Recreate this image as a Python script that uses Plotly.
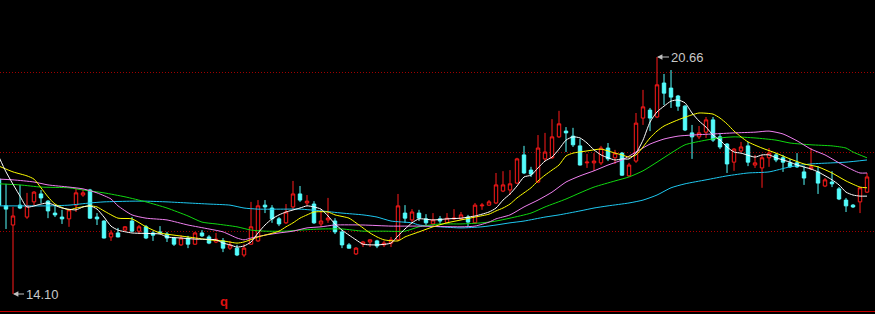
import plotly.graph_objects as go

# ---- candle data (index 0..124) ----
opens = [17.28,16.54,16.01,16.56,16.23,16.65,16.87,16.67,16.34,16.23,
         16.18,16.56,16.84,16.98,16.23,16.12,15.68,15.79,15.87,16.12,
         15.84,15.96,15.79,15.82,15.76,15.65,15.46,15.65,15.48,15.79,
         15.68,15.54,15.57,15.37,15.37,15.18,15.48,15.57,16.56,16.48,
         16.18,16.07,16.51,16.87,16.62,16.59,16.04,16.15,16.12,15.82,
         15.46,15.21,15.48,15.54,15.57,15.46,15.51,15.60,16.34,16.15,
         16.34,16.18,16.04,16.18,16.07,16.18,16.18,16.23,16.07,16.54,
         16.56,16.62,16.95,16.98,17.17,17.95,17.53,17.20,17.84,17.87,
         18.45,18.61,18.47,18.20,17.73,17.73,17.73,18.14,17.87,18.00,
         17.37,17.78,18.97,19.19,19.00,19.94,19.80,19.58,19.30,18.56,
         18.45,18.58,18.92,18.45,18.25,17.75,18.06,18.20,17.67,17.59,
         17.87,17.95,17.87,17.73,17.73,17.48,17.56,17.48,17.09,17.20,
         17.01,16.70,16.56,16.65,16.92]
highs = [17.30,17.15,16.51,17.12,16.90,16.95,16.98,16.70,16.56,16.43,
         16.45,17.01,16.98,17.01,16.34,16.14,15.87,15.93,15.98,16.23,
         16.01,16.01,15.84,15.98,15.82,15.68,15.73,15.71,15.82,15.87,
         15.73,15.79,15.65,15.57,15.46,15.48,16.65,16.70,16.70,16.56,
         16.23,16.59,17.23,17.09,16.84,16.67,16.45,16.76,16.20,15.87,
         15.51,15.40,15.57,15.62,15.60,15.57,15.68,16.87,16.56,16.45,
         16.43,16.31,16.34,16.26,16.34,16.45,16.37,16.29,16.62,16.62,
         16.70,17.45,17.50,17.53,17.87,18.20,17.62,18.50,18.56,18.94,
         19.17,18.72,18.70,18.39,17.98,18.00,18.20,18.28,18.09,18.03,
         17.73,19.11,19.75,19.25,20.66,20.19,20.30,19.61,19.33,18.78,
         18.75,19.00,19.00,18.56,18.28,18.14,18.31,18.31,17.95,17.95,
         18.14,18.00,17.95,17.84,18.00,17.64,18.14,17.64,17.31,17.50,
         17.06,16.76,16.59,17.06,17.45]
lows = [16.54,15.90,14.10,16.45,16.18,16.56,16.62,16.20,16.23,16.04,
        15.96,16.37,16.79,16.18,16.01,15.64,15.57,15.67,15.84,15.82,
        15.76,15.62,15.57,15.76,15.54,15.43,15.43,15.37,15.46,15.68,
        15.48,15.51,15.26,15.32,15.15,15.12,15.46,15.54,16.34,16.07,
        15.98,16.04,16.45,16.65,16.54,16.04,15.96,16.07,15.76,15.37,
        15.36,15.18,15.40,15.40,15.37,15.40,15.40,15.57,16.07,16.07,
        16.12,16.01,15.96,16.04,16.04,16.15,16.15,15.96,16.04,16.43,
        16.54,16.59,16.92,16.84,17.15,17.42,17.34,17.17,17.78,17.84,
        18.42,18.03,18.17,17.66,17.59,17.51,17.67,17.78,17.70,17.37,
        17.34,17.73,18.78,18.61,18.97,19.33,19.25,19.17,18.61,17.84,
        18.39,18.42,18.31,18.11,17.45,17.51,18.03,17.64,17.59,17.04,
        17.62,17.75,17.48,17.59,17.59,17.12,17.53,16.87,17.06,17.06,
        16.70,16.37,16.48,16.34,16.90]
closes = [16.56,16.45,16.26,16.48,16.54,16.92,16.76,16.40,16.29,16.18,
          16.43,16.90,16.90,16.20,16.18,15.65,15.79,15.68,15.96,15.84,
          15.96,15.65,15.73,15.79,15.65,15.48,15.65,15.48,15.79,15.71,
          15.51,15.62,15.37,15.46,15.18,15.37,15.96,16.54,16.51,16.18,
          16.04,16.37,16.87,16.70,16.67,16.07,16.12,16.20,15.82,15.46,
          15.37,15.37,15.54,15.60,15.43,15.51,15.60,16.54,16.20,16.37,
          16.20,16.07,16.15,16.12,16.20,16.20,16.29,16.09,16.56,16.56,
          16.65,17.12,17.12,17.15,17.84,17.45,17.42,18.14,18.03,18.45,
          18.81,18.56,18.23,17.67,17.75,17.78,18.14,17.84,18.00,17.39,
          17.67,18.83,19.28,18.97,19.89,19.66,19.55,19.30,18.64,18.45,
          18.56,18.92,18.36,18.17,17.70,18.11,18.17,17.75,17.73,17.87,
          18.00,17.81,17.75,17.62,17.62,17.31,17.62,17.17,17.26,17.15,
          16.73,16.54,16.51,17.04,17.34]
days = list(range(len(opens)))

# ---- moving-average lines (index, value) ----
ma5_idx = [0,1,3,4,6,7,9,11,12,13,14,15,16,17,19,23,24,26,28,31,32,33,34,35,36,37,38,39,40,41,
           43,44,45,46,47,48,49,50,51,52,54,56,57,58,59,60,62,64,66,68,69,70,71,72,73,74,75,76,77,78,
           79,80,81,82,83,84,85,86,87,88,89,90,91,92,93,94,95,96,97,98,99,100,101,102,103,104,105,106,108,109,
           110,111,113,114,116,117,119,120,121,122,123,124]
ma5_val = [17.89,17.48,16.81,16.51,16.59,16.62,16.48,16.43,16.51,16.54,16.45,16.23,15.98,15.87,15.79,15.76,15.68,15.65,15.62,15.60,
           15.51,15.46,15.40,15.43,15.54,15.79,16.01,16.18,16.29,16.37,16.48,16.54,16.51,16.45,16.26,16.04,15.87,15.73,15.60,15.48,
           15.46,15.51,15.71,15.90,16.07,16.18,16.15,16.18,16.20,16.26,16.31,16.37,16.48,16.70,16.87,17.09,17.34,17.39,17.59,17.78,
           17.89,18.11,18.36,18.45,18.42,18.28,18.09,17.95,17.87,17.81,17.84,17.84,18.00,18.36,18.86,19.14,19.30,19.44,19.47,19.39,
           19.11,18.89,18.72,18.50,18.36,18.17,18.03,18.00,17.89,17.95,17.95,17.87,17.75,17.67,17.56,17.48,17.26,17.12,16.92,16.84,
           16.81,16.81]

ma10_idx = [0,2,4,5,6,7,8,10,11,13,14,15,17,19,21,23,25,27,30,32,34,35,37,38,40,41,42,43,44,45,
            47,48,50,51,52,53,54,55,57,58,60,62,64,66,68,70,71,72,73,74,75,76,77,78,79,80,81,82,84,86,
            88,89,90,91,92,93,94,95,97,99,100,102,103,104,105,106,107,109,111,113,115,117,119,121,123,124]
ma10_val = [17.64,17.48,17.37,17.28,17.04,16.79,16.59,16.43,16.48,16.54,16.51,16.40,16.20,16.18,15.96,15.79,15.73,15.68,15.60,15.57,
            15.51,15.54,15.68,15.73,15.84,15.96,16.07,16.20,16.29,16.37,16.37,16.29,16.20,16.07,15.93,15.79,15.68,15.60,15.57,15.68,
            15.82,15.96,16.07,16.15,16.23,16.31,16.40,16.48,16.59,16.76,16.90,17.04,17.23,17.39,17.53,17.67,17.92,18.00,18.06,18.11,
            18.00,17.95,17.89,17.95,18.17,18.42,18.61,18.75,18.92,19.06,19.11,19.08,18.97,18.81,18.61,18.45,18.31,18.14,18.00,17.84,
            17.70,17.62,17.45,17.23,17.06,17.04]

ma20_idx = [0,2,5,7,10,12,14,16,17,19,21,24,27,30,32,34,35,36,38,40,42,44,46,48,52,56,60,66,68,70,
            71,73,75,77,79,81,83,85,87,89,91,93,95,97,99,102,105,108,110,112,114,116,118,120,122,123,124]
ma20_val = [17.28,17.26,17.20,17.12,17.06,17.01,16.90,16.73,16.54,16.29,16.20,16.15,16.01,15.90,15.82,15.65,15.60,15.65,15.73,15.79,
            15.84,15.93,15.96,16.01,16.01,15.98,15.98,15.96,15.98,16.09,16.18,16.29,16.51,16.70,16.92,17.20,17.37,17.51,17.67,17.81,
            18.03,18.25,18.39,18.47,18.50,18.53,18.56,18.58,18.61,18.53,18.34,18.11,17.95,17.73,17.53,17.45,17.45]

ma30_idx = [0,3,6,10,12,15,18,21,24,27,29,31,34,36,38,41,43,46,49,52,55,58,60,63,66,69,71,73,76,78,
            81,83,85,88,90,92,94,96,98,101,103,105,108,111,113,116,119,121,122,124]
ma30_val = [17.15,17.12,17.06,17.04,16.98,16.90,16.79,16.65,16.48,16.26,16.09,16.04,15.96,15.87,15.84,15.84,15.87,15.90,15.90,15.84,
            15.84,15.84,15.96,16.04,16.04,16.07,16.12,16.20,16.34,16.51,16.73,16.90,17.06,17.23,17.34,17.51,17.75,18.00,18.23,18.36,
            18.42,18.45,18.42,18.36,18.28,18.23,18.20,18.14,18.03,17.87]

ma60_idx = [0,7,10,13,15,19,21,24,27,30,33,35,37,41,43,46,49,52,54,56,59,60,63,66,69,71,73,75,78,80,
            83,85,87,90,92,94,96,98,101,104,107,110,113,116,119,121,124]
ma60_val = [16.54,16.54,16.56,16.62,16.65,16.67,16.67,16.65,16.62,16.59,16.56,16.48,16.45,16.45,16.45,16.40,16.34,16.29,16.23,16.12,
            16.07,16.01,15.96,15.93,15.96,16.01,16.07,16.12,16.23,16.29,16.40,16.48,16.54,16.62,16.70,16.84,17.04,17.15,17.26,17.37,
            17.45,17.48,17.62,17.70,17.73,17.75,17.81]

grid_levels = [15.84, 18.03, 20.24]
high_label = "20.66"
low_label = "14.10"
marker_text = "q"

UP = "#ff1a1a"
DOWN = "#54fcfc"

fig = go.Figure()
fig.add_trace(go.Candlestick(
    x=days, open=opens, high=highs, low=lows, close=closes,
    increasing=dict(line=dict(color=UP, width=1), fillcolor="#000000"),
    decreasing=dict(line=dict(color=DOWN, width=1), fillcolor=DOWN),
    whiskerwidth=0, showlegend=False, hoverinfo="skip",
))

ma_specs = [
    (ma60_idx, ma60_val, "#1ec8f0"),
    (ma30_idx, ma30_val, "#10d810"),
    (ma20_idx, ma20_val, "#f080f0"),
    (ma10_idx, ma10_val, "#ffff00"),
    (ma5_idx, ma5_val, "#ffffff"),
]
for xi, yv, col in ma_specs:
    fig.add_trace(go.Scatter(x=xi, y=yv, mode="lines",
                             line=dict(color=col, width=1, shape="spline", smoothing=0.6),
                             showlegend=False, hoverinfo="skip"))

font_lbl = dict(family="Liberation Sans, Arial, sans-serif", size=13, color="#c8c8c8")
fig.add_annotation(x=94, y=float(high_label), text=high_label, showarrow=True,
                   ax=30, ay=0, arrowhead=2, arrowsize=0.9, arrowwidth=1.2,
                   arrowcolor="#c0c0c0", font=font_lbl, standoff=0)
fig.add_annotation(x=2, y=float(low_label), text=low_label, showarrow=True,
                   ax=29, ay=0, arrowhead=2, arrowsize=0.9, arrowwidth=1.2,
                   arrowcolor="#c0c0c0", font=font_lbl, standoff=0)
fig.add_annotation(xref="paper", yref="paper", x=218/875, y=(311-301)/311,
                   xanchor="left", yanchor="middle",
                   text="<b>" + marker_text + "</b>", showarrow=False,
                   font=dict(family="Liberation Sans, Arial, sans-serif", size=13, color="#e01010"))

fig.update_layout(
    width=875, height=314,
    margin=dict(l=0, r=0, t=0, b=3),
    paper_bgcolor="#000000", plot_bgcolor="#000000",
    showlegend=False,
    xaxis=dict(range=[0.143, 125.14], showgrid=False, zeroline=False,
               showticklabels=False, ticks="", rangeslider=dict(visible=False),
               showline=True, linecolor="#c80000", linewidth=1, mirror=False),
    yaxis=dict(range=[13.63, 22.238], tickvals=grid_levels, showticklabels=False,
               ticks="", showgrid=True, gridcolor="#a00000", gridwidth=1,
               griddash="1px,2px", zeroline=False, showline=False),
)

fig.write_html("out.html")
